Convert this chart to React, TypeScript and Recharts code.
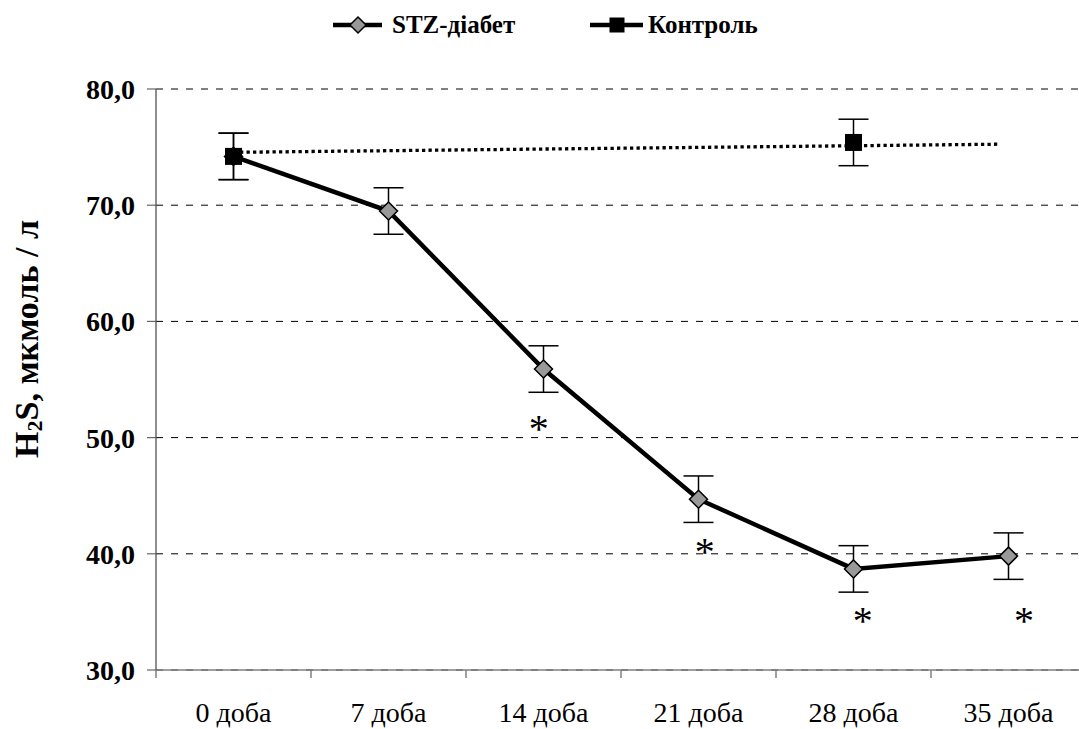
import {
  ComposedChart,
  Line,
  Scatter,
  ErrorBar,
  XAxis,
  YAxis,
  CartesianGrid,
} from 'recharts';

// Значення (H2S, мкмоль/л)
const days = ['0 доба', '7 доба', '14 доба', '21 доба', '28 доба', '35 доба'];
const stzValues = [74.2, 69.5, 55.9, 44.7, 38.7, 39.8];
const stzErrors = [2.0, 2.0, 2.0, 2.0, 2.0, 2.0];
// контроль виміряно лише на 0 і 28 добу
const controlDays = [0, 4];
const controlValues = [74.2, 75.4];
const controlErrors = [2.0, 2.0];
// пунктирна лінія тренду контролю
const trendX = [0, 4.94];
const trendY = [74.55, 75.25];
// зірочки (p < 0.05)
const starX = [1.97, 3.04, 4.06, 5.1];
const starY = [51.1, 40.5, 34.6, 34.6];
const yTicks = [30, 40, 50, 60, 70, 80];

const FONT = 'Liberation Serif';
const CHART_W = 1090;
const CHART_H = 729;
const PLOT_W = 930;
const HALF_BAND = PLOT_W / days.length / 2;

const stzRows = days.map((_, i) => ({ x: i, y: stzValues[i], err: stzErrors[i] }));
const controlRows = controlDays.map((d, i) => ({ x: d, y: controlValues[i], err: controlErrors[i] }));
const trendRows = trendX.map((x, i) => ({ x, y: trendY[i] }));
const starRows = starX.map((x, i) => ({ x, y: starY[i] }));

const fmt = (v: number) => v.toFixed(1).replace('.', ',');

function Diamond({ cx, cy, r = 9 }: { cx: number; cy: number; r?: number }) {
  return (
    <path
      d={`M${cx},${cy - r} L${cx + r},${cy} L${cx},${cy + r} L${cx - r},${cy} Z`}
      fill="#999999"
      stroke="#000"
      strokeWidth={1.5}
    />
  );
}

function Square({ cx, cy, s = 17 }: { cx: number; cy: number; s?: number }) {
  return <rect x={cx - s / 2} y={cy - s / 2} width={s} height={s} fill="#000" />;
}

// підпис під категорією + риска на межі категорії (як в Excel)
function DayTick(props: any) {
  const { x, y, payload } = props;
  return (
    <g>
      <line x1={x - HALF_BAND} y1={y} x2={x - HALF_BAND} y2={y + 8} stroke="#808080" strokeWidth={1.5} />
      <text x={x} y={y + 52} textAnchor="middle" fontSize={28} fontFamily={FONT} fill="#000">
        {days[payload.value]}
      </text>
    </g>
  );
}

function Legend() {
  const ty = 33;
  return (
    <svg width={1079} height={50} style={{ position: 'absolute', left: 0, top: 0 }}>
      <line x1={333} y1={25} x2={382} y2={25} stroke="#000" strokeWidth={4.5} />
      <Diamond cx={358} cy={25} r={8} />
      <text x={392} y={ty} fontSize={25} fontWeight="bold" fontFamily={FONT}>
        STZ-діабет
      </text>
      <line x1={590} y1={25} x2={643} y2={25} stroke="#000" strokeWidth={4.5} />
      <Square cx={617} cy={25} s={15} />
      <text x={648} y={ty} fontSize={25} fontWeight="bold" fontFamily={FONT}>
        Контроль
      </text>
    </svg>
  );
}

function YLabel() {
  return (
    <text
      x={38}
      y={339}
      transform="rotate(-90, 38, 339)"
      textAnchor="middle"
      fontSize={34}
      fontWeight="bold"
      fontFamily={FONT}
      fill="#000"
    >
      H
      <tspan fontSize={22} dy={4}>2</tspan>
      <tspan dy={-4}>S, мкмоль / л</tspan>
    </text>
  );
}

export default function App() {
  return (
    <div
      style={{
        position: 'absolute',
        left: 0,
        top: 0,
        width: 1079,
        height: 729,
        overflow: 'hidden',
        background: '#fff',
      }}
    >
      <ComposedChart width={CHART_W} height={CHART_H} margin={{ top: 89, right: 4, left: 0, bottom: 0 }}>
        <CartesianGrid vertical={false} stroke="#000" strokeDasharray="7 8" />
        <XAxis
          type="number"
          dataKey="x"
          domain={[-0.5, 5.5]}
          ticks={[0, 1, 2, 3, 4, 5]}
          interval={0}
          height={59}
          tickLine={false}
          tickSize={0}
          tickMargin={0}
          tick={<DayTick />}
          axisLine={{ stroke: '#808080', strokeWidth: 1.5 }}
        />
        <YAxis
          type="number"
          domain={[30, 80]}
          ticks={yTicks}
          width={156}
          tickSize={9}
          tickMargin={12}
          tickFormatter={fmt}
          tick={{ fontSize: 28, fontWeight: 'bold', fill: '#000', fontFamily: FONT }}
          tickLine={{ stroke: '#666', strokeWidth: 1.2 }}
          axisLine={{ stroke: '#444', strokeWidth: 1.2 }}
          label={{ content: () => <YLabel /> }}
        />
        <Line
          data={trendRows}
          dataKey="y"
          type="linear"
          stroke="#000"
          strokeWidth={3.3}
          strokeDasharray="3.3 3.2"
          dot={false}
          activeDot={false}
          isAnimationActive={false}
        />
        <Line
          data={stzRows}
          dataKey="y"
          type="linear"
          stroke="#000"
          strokeWidth={4.5}
          dot={(p: any) => <Diamond key={`d${p.index}`} cx={p.cx} cy={p.cy} />}
          activeDot={false}
          isAnimationActive={false}
        >
          <ErrorBar dataKey="err" width={15} stroke="#000" strokeWidth={1.5} direction="y" />
        </Line>
        <Line
          data={controlRows}
          dataKey="y"
          type="linear"
          stroke="none"
          strokeWidth={0}
          dot={(p: any) => <Square key={`s${p.index}`} cx={p.cx} cy={p.cy} />}
          activeDot={false}
          isAnimationActive={false}
        >
          <ErrorBar dataKey="err" width={15} stroke="#000" strokeWidth={1.5} direction="y" />
        </Line>
        <Scatter
          data={starRows}
          dataKey="y"
          isAnimationActive={false}
          shape={(p: any) => (
            <text x={p.cx} y={p.cy + 17} textAnchor="middle" fontSize={40} fontFamily={FONT} fill="#000">
              *
            </text>
          )}
        />
      </ComposedChart>
      <Legend />
    </div>
  );
}
